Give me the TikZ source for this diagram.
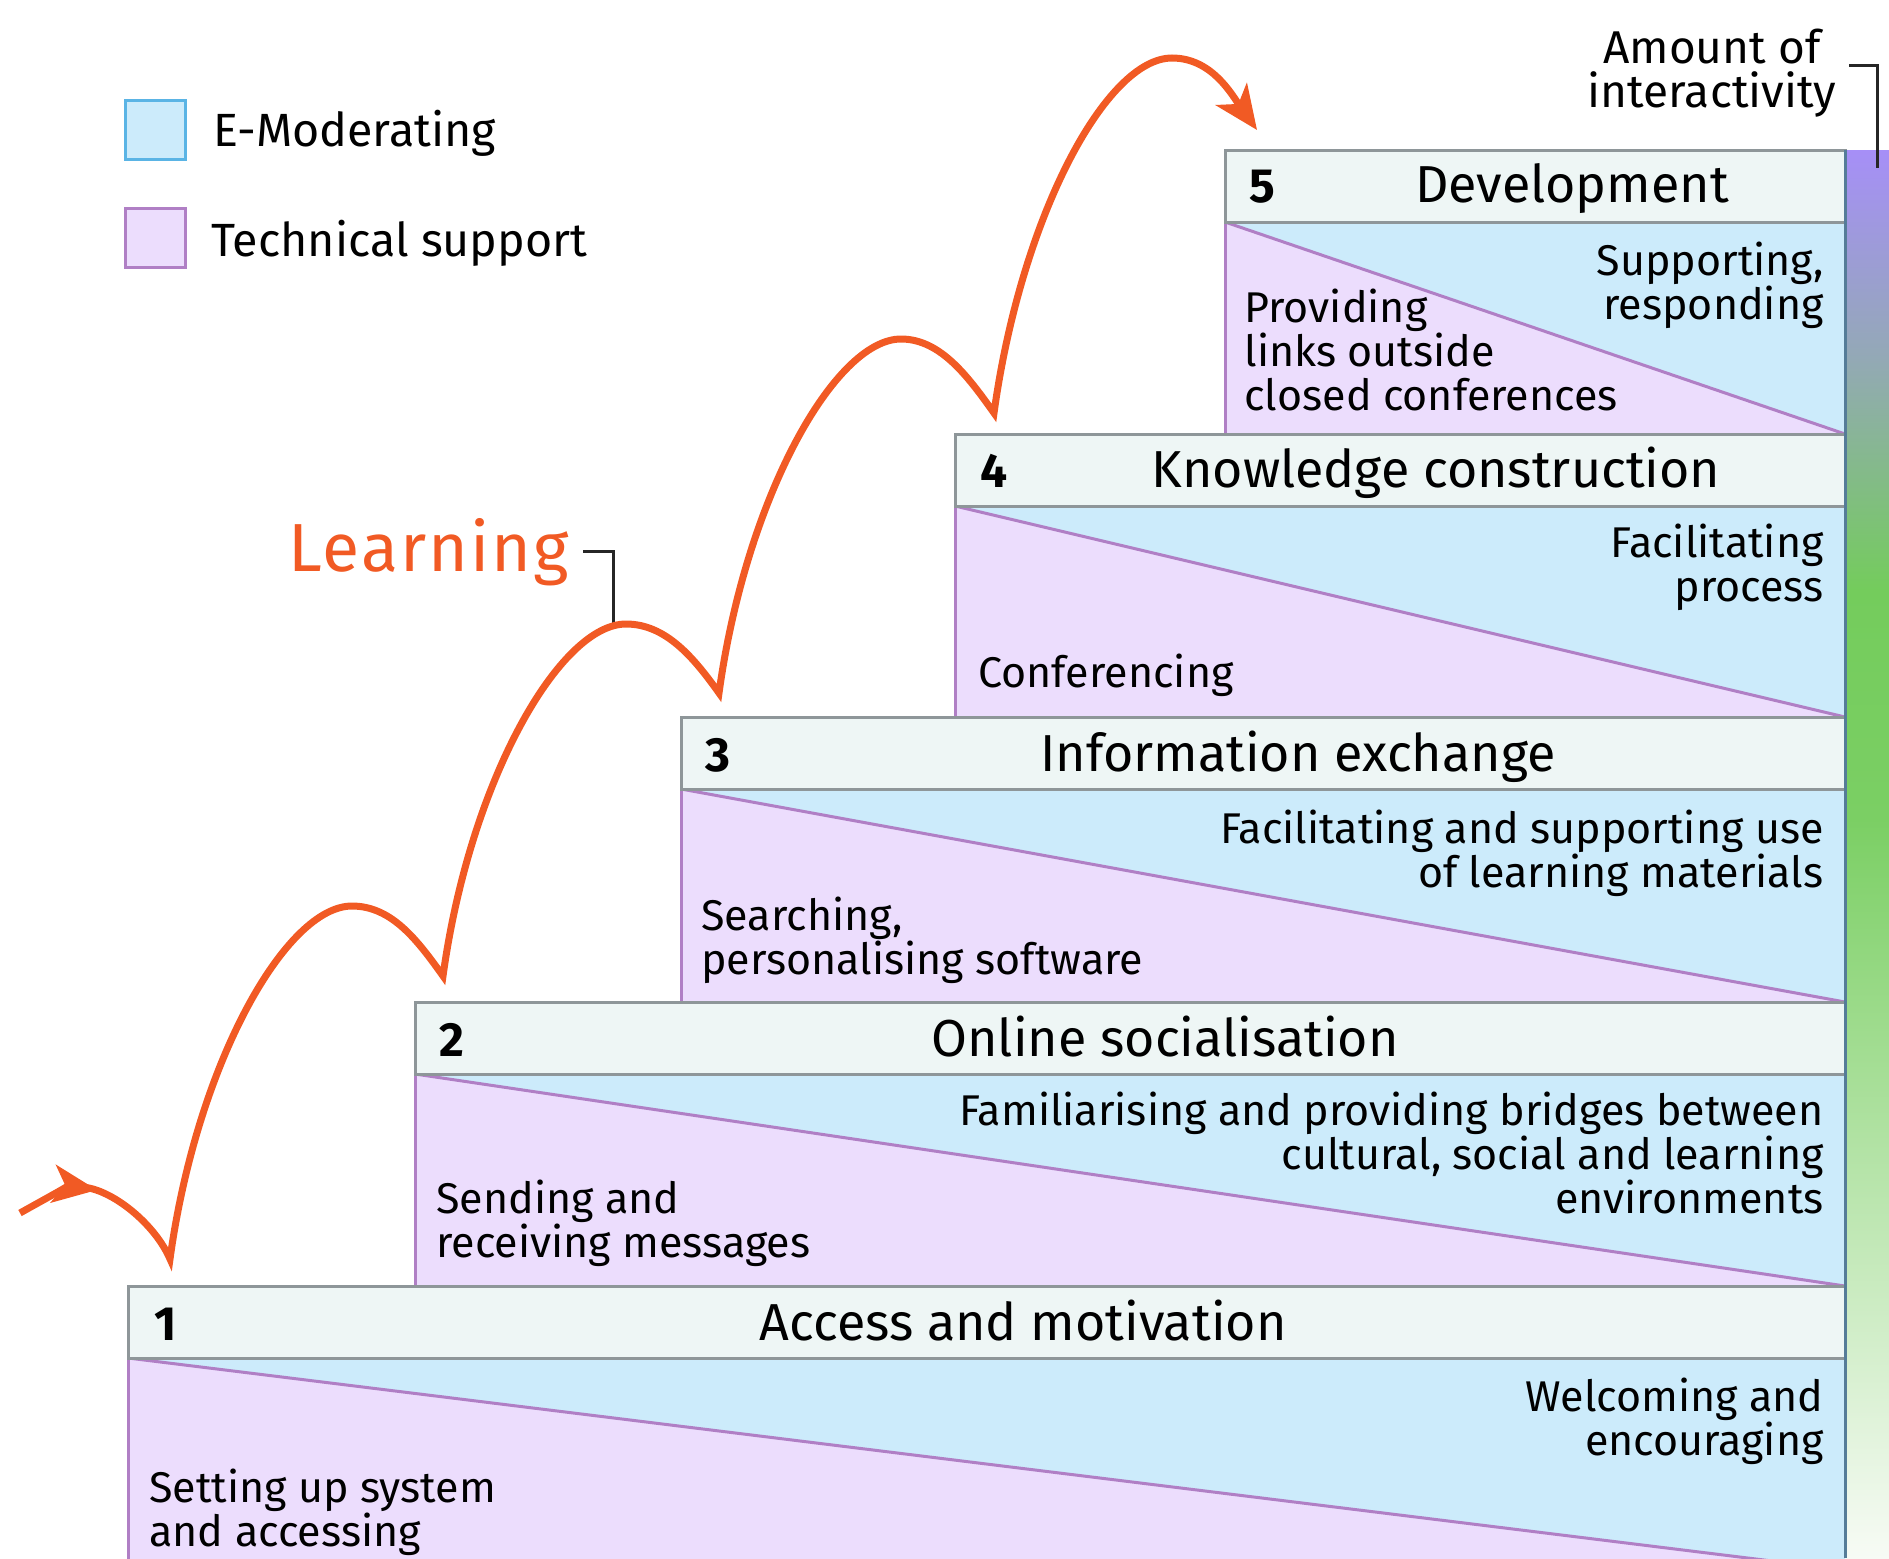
\documentclass[tikz,border=0pt]{standalone}
\usepackage{fontspec}
\setmainfont{Fira Sans}
\usetikzlibrary{arrows.meta}
\definecolor{emod}{HTML}{CCEBFB}
\definecolor{emodline}{HTML}{5AB4E5}
\definecolor{tech}{HTML}{ECDDFD}
\definecolor{techline}{HTML}{B07FC5}
\definecolor{headfill}{HTML}{EEF6F5}
\definecolor{headline}{HTML}{8E9699}
\definecolor{learn}{HTML}{F15A24}
\definecolor{barline}{HTML}{557C98}
\definecolor{gpurple}{HTML}{A68FF7}
\definecolor{ggray}{HTML}{93A9B5}
\definecolor{ggreen}{HTML}{74CC5C}
\definecolor{ggreenb}{HTML}{7BCF64}
\definecolor{gwhite}{HTML}{F7FBF5}
\begin{document}
\begin{tikzpicture}[x=0.5pt,y=-0.5pt,
  hdr/.style={fill=headfill, draw=headline, line width=1.5pt},
  diag/.style={draw=techline, line width=1.5pt},
  title/.style={font=\fontsize{26}{30}\selectfont, anchor=base, inner sep=0pt},
  num/.style={font=\fontsize{24}{28}\selectfont\bfseries, anchor=base, inner sep=0pt},
  rtext/.style={font=\fontsize{21.5}{22}\selectfont, align=right, anchor=base east, inner sep=0pt},
  ltext/.style={font=\fontsize{21.5}{22}\selectfont, align=left, anchor=base west, inner sep=0pt},
  legtext/.style={font=\fontsize{23.3}{28}\selectfont, anchor=base west, inner sep=0pt},
  legbox/.style={minimum width=30pt, minimum height=29.5pt, line width=1.5pt, inner sep=0pt},
  hop/.style={draw=learn, line width=3.5pt},
  tipstyle/.style={-{Stealth[length=22pt,width=19pt,inset=6pt]}},
  callout/.style={draw=black!85, line width=1.5pt}
]
\useasboundingbox (0,0) rectangle (1889,1558);
\begin{scope}
\clip (0,0) rectangle (1889,1558);
% step bodies
\foreach \l/\t/\b in {1225/222/434, 955/506/717, 681/789/1002, 415/1074/1286, 128/1358/1570}{
  \fill[emod] (\l,\t) rectangle (1845,\b);
  \fill[tech] (\l,\t) -- (1845,\b) -- (\l,\b) -- cycle;
  \draw[diag] (\l,\t) -- (1845,\b);
  \draw[diag] (\l,\t) -- (\l,\b);
}
% step headers
\foreach \l/\t in {1225/150, 955/434, 681/717, 415/1002, 128/1286}{
  \draw[hdr] (\l,\t) rectangle (1845,\t+72);
}
% interactivity bar
\shade[top color=gpurple, bottom color=ggray] (1845,150) rectangle (1889,360);
\shade[top color=ggray, bottom color=ggreen] (1845,359) rectangle (1889,590);
\shade[top color=ggreen, bottom color=ggreenb] (1845,589) rectangle (1889,820);
\shade[top color=ggreenb, bottom color=gwhite] (1845,819) rectangle (1889,1558);
\draw[barline, line width=1.5pt] (1845,150) -- (1845,1558);
\end{scope}

% header texts
\node[num] (n5) at (1262,202) {5};
\node[title] (t5) at (1572,202) {Development};
\node[num] (n4) at (994,487) {4};
\node[title] (t4) at (1436,487) {Knowledge construction};
\node[num] (n3) at (718,771) {3};
\node[title] (t3) at (1298,771) {Information exchange};
\node[num] (n2) at (452,1056) {2};
\node[title] (t2) at (1165,1056) {Online socialisation};
\node[num] (n1) at (166,1340) {1};
\node[title] (t1) at (1023,1340) {Access and motivation};

% body texts (anchored at the baseline of the last line)
\node[rtext] (r5) at (1824,319) {Supporting,\\responding};
\node[ltext] (l5) at (1244,410) {Providing\\links outside\\closed conferences};
\node[rtext] (r4) at (1824,601) {Facilitating\\process};
\node[ltext] (l4) at (978,687) {Conferencing};
\node[rtext] (r3) at (1824,887) {Facilitating and supporting use\\of learning materials};
\node[ltext] (l3) at (701,974) {Searching,\\personalising software};
\node[rtext] (r2) at (1824,1213) {Familiarising and providing bridges between\\cultural, social and learning\\environments};
\node[ltext] (l2) at (436,1257) {Sending and\\receiving messages};
\node[rtext] (r1) at (1824,1455) {Welcoming and\\encouraging};
\node[ltext] (l1) at (149,1546) {Setting up system\\and accessing};

% legend
\node[legbox, fill=emod, draw=emodline] (lb1) at (155,130) {};
\node[legtext] (lt1) at (213,146) {E-Moderating};
\node[legbox, fill=tech, draw=techline] (lb2) at (155,237.5) {};
\node[legtext] (lt2) at (211,256) {Technical support};

% amount of interactivity
\node[font=\fontsize{23}{22}\selectfont, align=center, anchor=base, inner sep=0pt] (amt) at (1712,107) {Amount of\\interactivity};
\coordinate (amtA) at (1849,65);
\coordinate (amtB) at (1877,65);
\coordinate (amtC) at (1877,168);
\draw[callout] (amtA) -- (amtB) -- (amtC);

% learning
\node[text=learn, font=\fontsize{34}{40}\selectfont\addfontfeatures{LetterSpace=3}, anchor=base, inner sep=0pt] (learning) at (429,571) {Learning};
\coordinate (lrA) at (583,551);
\coordinate (lrB) at (613,551);
\coordinate (lrC) at (613,625);
\draw[callout] (lrA) -- (lrB) -- (lrC);

% learning path
\coordinate (s) at (20,1213);
\coordinate (m) at (97,1190);
\coordinate (mm) at (82,1187);
\coordinate (c1) at (170,1259);
\coordinate (p1) at (352,906);
\coordinate (c2) at (443,976);
\coordinate (p2) at (626,624);
\coordinate (c3) at (719,693);
\coordinate (p3) at (901,339);
\coordinate (c4) at (994,413);
\coordinate (p4) at (1172,58);
\coordinate (e) at (1257,130);
\draw[hop, tipstyle] (mm) .. controls +(30,2) and +(-15,-35) .. (c1)
  .. controls +(27,-196) and +(-66,0) .. (p1)
  .. controls +(40,0) and +(-25,-35) .. (c2)
  .. controls +(27,-196) and +(-66,0) .. (p2)
  .. controls +(40,0) and +(-25,-35) .. (c3)
  .. controls +(27,-196) and +(-66,0) .. (p3)
  .. controls +(40,0) and +(-25,-35) .. (c4)
  .. controls +(27,-196) and +(-66,0) .. (p4)
  .. controls +(40,0) and +(-25,-35) .. (e);
\draw[hop, tipstyle] (s) .. controls +(25,-14) and +(-28,-4) .. (m);
\end{tikzpicture}
\end{document}
